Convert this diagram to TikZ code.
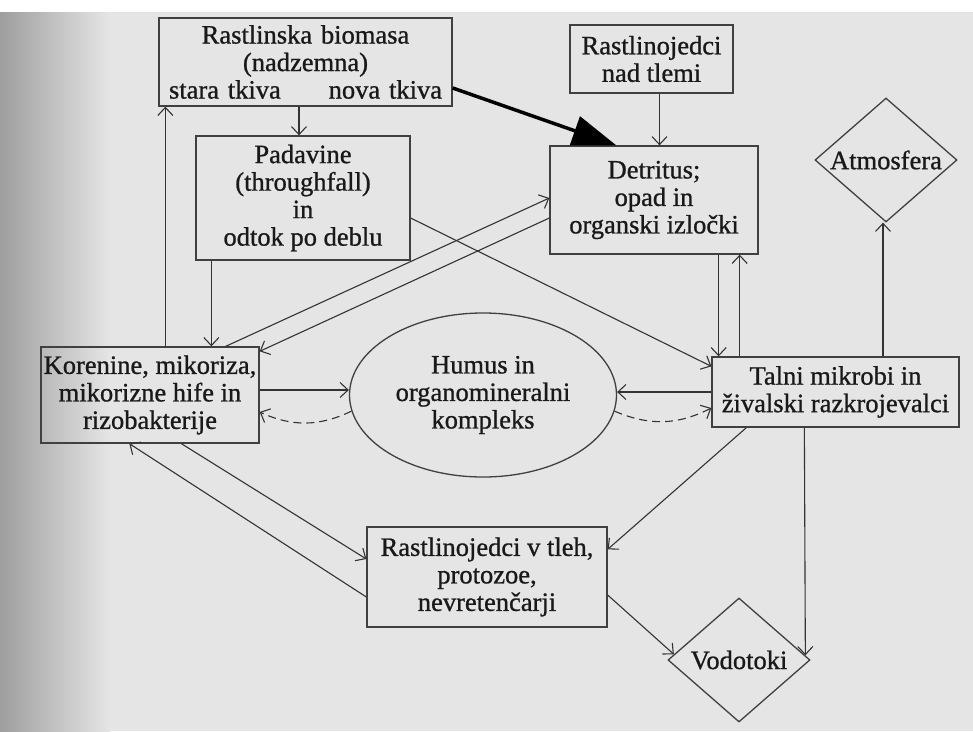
\documentclass[tikz,border=0pt]{standalone}
\usepackage{fontspec}
\setmainfont{Liberation Serif}
\newfontfamily\scanfont{Liberation Serif}[FakeBold=0.9]
\usetikzlibrary{arrows.meta,shapes.geometric}

\begin{document}
\begin{tikzpicture}[x=1pt,y=-1pt]
			\tikzstyle{es} = [-{Straight Barb[length=8pt,width=15pt]}, line width=1.1pt, draw=black!80]
			\tikzstyle{ed} = [es, dash pattern=on 8pt off 5pt]
			\tikzstyle{eb} = [-{Triangle[length=44pt,width=30pt]}, line width=3.5pt, draw=black]
			\tikzstyle{box} = [draw=black!75, line width=1.3pt, inner sep=2pt, align=center, text=black!90, font=\scanfont\fontsize{26.5}{27.5}\selectfont]
			\tikzstyle{dia} = [box, diamond, shape aspect=1.15, inner sep=0pt]
			\useasboundingbox (0,0) rectangle (973,731);
			\fill [white] (0,0) rectangle (973,12);
			\fill [black!10] (0,12) rectangle (973,731);
			\shade [left color=black!38, right color=black!10] (0,12) rectangle (110,731);
			\node [box, minimum width=293, minimum height=88, text width=273] (biom) at (305.5,62) {Rastlinska biomasa\\(nadzemna)\\stara tkiva\hfill nova tkiva};
			\node [box, minimum width=163, minimum height=68] (rnt) at (651.5,59) {Rastlinojedci\\nad tlemi};
			\node [box, minimum width=214, minimum height=124] (pad) at (303,198) {Padavine\\(throughfall)\\in\\odtok po deblu};
			\node [box, minimum width=208, minimum height=108] (det) at (654,200) {Detritus;\\opad in\\organski izločki};
			\node [dia, minimum width=142, minimum height=124] (atm) at (886,160) {Atmosfera};
			\node [box, minimum width=218, minimum height=96] (kor) at (150,395) {Korenine, mikoriza,\\mikorizne hife in\\rizobakterije};
			\node [box, ellipse, minimum width=267, minimum height=164] (hum) at (483,395) {Humus in\\organomineralni\\kompleks};
			\node [box, minimum width=247, minimum height=70] (tal) at (835.5,392) {Talni mikrobi in\\živalski razkrojevalci};
			\node [box, minimum width=240, minimum height=100] (rvt) at (487,577) {Rastlinojedci v tleh,\\protozoe,\\nevretenčarji};
			\node [dia, minimum width=142, minimum height=124] (vod) at (739,660) {Vodotoki};
			% biomasa, padavine, detritus
			\draw [es] ([xshift=7]biom.south west |- kor.north) -- ([xshift=7]biom.south west);
			\draw [es] ([xshift=-4]pad.north |- biom.south) -- ([xshift=-4]pad.north);
			\draw [es] ([xshift=16]pad.south west) -- ([xshift=16]pad.south west |- kor.north);
			\draw [eb] ([yshift=-26]biom.east) -- ([xshift=67]det.north west);
			\draw [es] ([xshift=8]rnt.south) -- ([xshift=8]rnt.south |- det.north);
			\draw [es] ([yshift=-20]pad.east) -- ([yshift=-10]tal.north west);
			\draw [es] ([xshift=-34]kor.north east) -- ([yshift=2]det.west);
			\draw [es] ([yshift=-18]det.west) -- ([yshift=-5]kor.north east);
			% humus
			\draw [es] ([yshift=5]kor.east) -- ([yshift=5]hum.west);
			\draw [ed] (hum.187) to[bend left=25] ([yshift=-17]kor.east);
			\draw [es] (tal.west) -- (tal.west -| hum.east);
			\draw [ed] (hum.-7) to[bend right=25] ([yshift=-16]tal.west);
			% talni mikrobi
			\draw [es] ([xshift=-40]det.south east) -- ([xshift=-40]det.south east |- tal.north);
			\draw [es] ([xshift=-19]det.south east |- tal.north) -- ([xshift=-19]det.south east);
			\draw [es] ([xshift=-3]atm.south |- tal.north) -- ([xshift=-3]atm.south);
			\draw [es] ([xshift=35]tal.south west) -- ([yshift=-23]rvt.north east);
			\draw [es] ([xshift=93]tal.south west) -- (vod.4);
			% rastlinojedci v tleh
			\draw [es] ([yshift=-18]rvt.east) -- (vod.175);
			\draw [es] ([xshift=141]kor.south west) -- ([yshift=18]rvt.west);
			\draw [es] ([yshift=-20]rvt.west) -- ([xshift=89]kor.south west);
\end{tikzpicture}
\end{document}
